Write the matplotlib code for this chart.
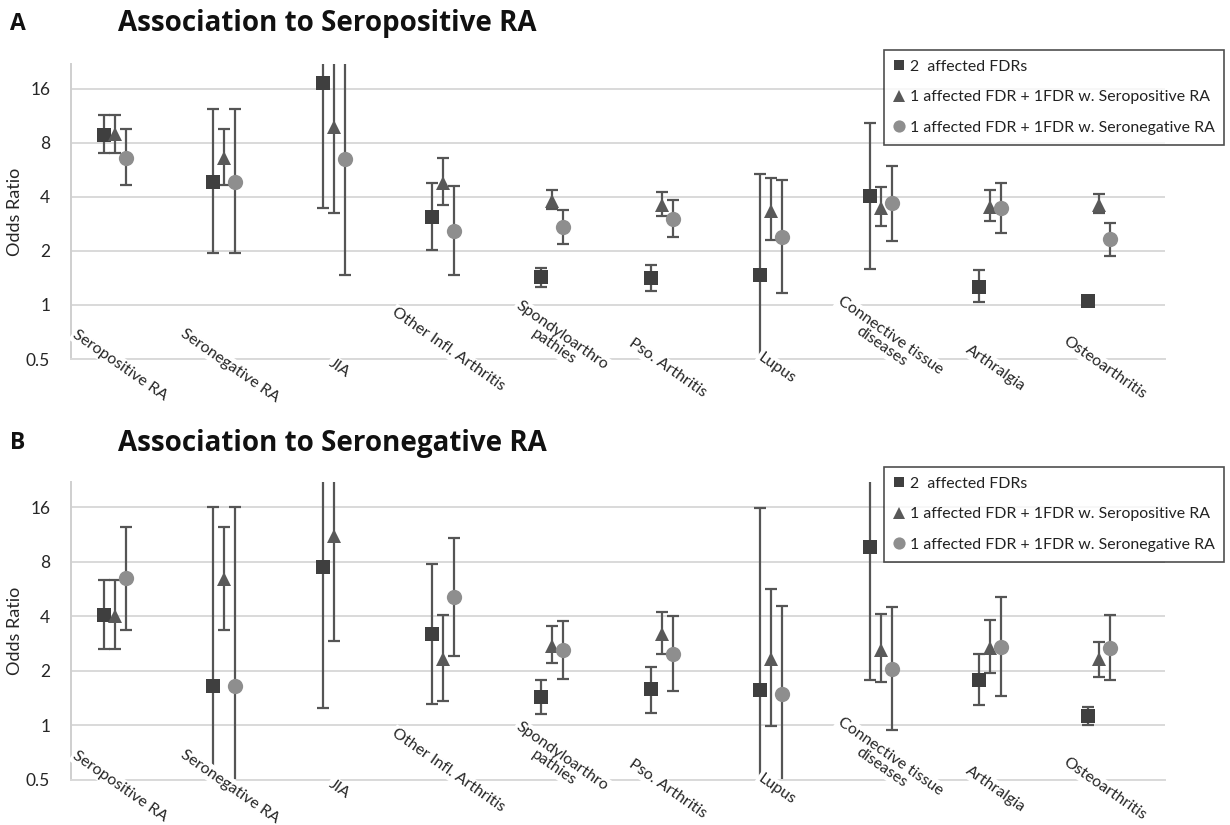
import numpy as np
import matplotlib
matplotlib.use('Agg')
import matplotlib.pyplot as plt
from matplotlib.ticker import FixedLocator, NullLocator, FixedFormatter

nan = np.nan

categories = ["Seropositive RA", "Seronegative RA", "JIA", "Other Infl. Arthritis",
              "Spondyloarthro\npathies", "Pso. Arthritis", "Lupus",
              "Connective tissue\ndiseases", "Arthralgia", "Osteoarthritis"]
series_labels = ["2  affected FDRs",
                 "1 affected FDR + 1FDR w. Seropositive RA",
                 "1 affected FDR + 1FDR w. Seronegative RA"]
yticks = [0.5, 1, 2, 4, 8, 16]
ytick_labels = ["0.5", "1", "2", "4", "8", "16"]

# Panel A: Association to Seropositive RA (odds ratio, lower CI, upper CI)
a_sq = [8.9, 4.85, 17.3, 3.09, 1.43, 1.41, 1.47, 4.04, 1.26, 1.05]
a_sq_lo = [7.0, 1.94, 3.45, 2.02, 1.26, 1.2, 0.3, 1.59, 1.04, 1.02]
a_sq_hi = [11.4, 12.3, 40, 4.75, 1.61, 1.67, 5.4, 10.3, 1.56, 1.08]
a_tr = [9.0, 6.6, 9.75, 4.79, 3.8, 3.6, 3.34, 3.45, 3.5, 3.6]
a_tr_lo = [7.0, 4.67, 3.26, 3.61, 3.43, 3.12, 2.3, 2.75, 2.93, 3.26]
a_tr_hi = [11.4, 9.5, 40, 6.6, 4.38, 4.24, 5.07, 4.52, 4.36, 4.16]
a_ci = [6.6, 4.85, 6.47, 2.58, 2.73, 3.02, 2.39, 3.68, 3.48, 2.32]
a_ci_lo = [4.67, 1.94, 1.47, 1.46, 2.2, 2.39, 1.16, 2.26, 2.53, 1.87]
a_ci_hi = [9.5, 12.3, 40, 4.59, 3.39, 3.84, 4.96, 5.96, 4.75, 2.86]

# Panel B: Association to Seronegative RA
b_sq = [4.08, 1.66, 7.47, 3.2, 1.44, 1.58, 1.56, 9.63, 1.79, 1.13]
b_sq_lo = [2.64, 0.3, 1.25, 1.32, 1.16, 1.17, 0.3, 1.79, 1.29, 1.0]
b_sq_hi = [6.36, 16.1, 40, 7.76, 1.79, 2.1, 15.8, 40, 2.49, 1.27]
b_tr = [4.0, 6.42, 11.1, 2.31, 2.73, 3.21, 2.33, 2.62, 2.68, 2.31]
b_tr_lo = [2.64, 3.36, 2.91, 1.37, 2.22, 2.47, 0.99, 1.74, 1.94, 1.86]
b_tr_hi = [6.36, 12.5, 40, 4.05, 3.54, 4.24, 5.68, 4.13, 3.82, 2.9]
b_ci = [6.5, 1.66, nan, 5.13, 2.61, 2.48, 1.49, 2.05, 2.71, 2.68]
b_ci_lo = [3.36, 0.3, nan, 2.42, 1.81, 1.55, 0.3, 0.94, 1.46, 1.78]
b_ci_hi = [12.5, 16.1, nan, 10.8, 3.75, 4.0, 4.58, 4.52, 5.08, 4.05]

plt.rcParams['font.family'] = ['Lato', 'DejaVu Sans']

fig = plt.figure(figsize=(12.3, 8.25), dpi=100)
W, H = 1230, 825

markers = ['s', '^', 'o']
mcolors = ['#3f3f3f', '#595959', '#8e8e8e']
msizes = [9.5, 10, 11]
offsets = [-0.2, -0.1, 0.0]
ecolor = '#555555'
gridc = '#d9d9d9'
txtc = '#262626'


def label_y(lab):
    # vertical centre of a rotated category label, in axes fraction
    lines = lab.split('\n')
    if len(lines) > 1:
        return 0.061
    return -0.03 + 0.0088 * max(0, len(lab) - 14)


def panel(ax_rect, series, title, letter, title_y, legend_top):
    ax = fig.add_axes(ax_rect)
    ax.set_yscale('log')
    ax.set_ylim(0.5, 22)
    ax.set_xlim(-0.5, len(categories) - 0.5)
    ax.yaxis.set_major_locator(FixedLocator(yticks))
    ax.yaxis.set_major_formatter(FixedFormatter(ytick_labels))
    ax.yaxis.set_minor_locator(NullLocator())
    ax.xaxis.set_major_locator(NullLocator())
    ax.xaxis.set_minor_locator(NullLocator())
    ax.tick_params(axis='y', length=0, pad=15, labelsize=12.5, labelcolor=txtc)
    ax.grid(axis='y', color=gridc, lw=1.4, zorder=0)
    ax.set_axisbelow(True)
    for s in ['top', 'right']:
        ax.spines[s].set_visible(False)
    ax.spines['left'].set_color('#cfcfcf')
    ax.spines['left'].set_linewidth(1.4)
    ax.spines['bottom'].set_color(gridc)
    ax.spines['bottom'].set_linewidth(1.4)
    ax.set_ylabel('Odds Ratio', fontsize=13, color=txtc)
    ax.yaxis.set_label_coords(-0.044, 0.5)

    x = np.arange(len(categories))
    for k, (vals, lo, hi) in enumerate(series):
        v = np.array(vals, float)
        l = np.array(lo, float)
        h = np.array(hi, float)
        ax.errorbar(x + offsets[k], v, yerr=[v - l, h - v], fmt='none',
                    ecolor=ecolor, elinewidth=1.6, capsize=4, capthick=1.6, zorder=2)
        ax.plot(x + offsets[k], v, ls='none', marker=markers[k], color=mcolors[k],
                markersize=msizes[k], markeredgewidth=0, label=series_labels[k], zorder=3)

    for i, lab in enumerate(categories):
        ax.text(i - 0.05, label_y(lab), lab, transform=ax.get_xaxis_transform(),
                rotation=-35, ha='center', va='center', fontsize=11.5, color=txtc,
                linespacing=1.0, multialignment='center', zorder=6, clip_on=False,
                bbox=dict(facecolor='white', edgecolor='none', pad=1.0))

    fig.text(18 / W, 1 - title_y / H, letter, fontsize=16.5, fontweight='bold',
             family=['Open Sans', 'DejaVu Sans'], ha='center', va='center', color='#111111')
    fig.text(118 / W, 1 - title_y / H, title, fontsize=20, fontweight='bold',
             family=['Open Sans', 'DejaVu Sans'], ha='left', va='center', color='#111111')

    leg = ax.legend(loc='upper right', bbox_to_anchor=(1224 / W, 1 - legend_top / H),
                    bbox_transform=fig.transFigure, borderaxespad=0, frameon=True,
                    fancybox=False, edgecolor='#222222', fontsize=11.4,
                    handlelength=0.7, handletextpad=0.3, labelspacing=1.05,
                    borderpad=0.6, markerscale=0.8)
    leg.get_frame().set_linewidth(1.2)
    for t in leg.get_texts():
        t.set_color('#222222')
    return ax


seriesA = [(a_sq, a_sq_lo, a_sq_hi), (a_tr, a_tr_lo, a_tr_hi), (a_ci, a_ci_lo, a_ci_hi)]
seriesB = [(b_sq, b_sq_lo, b_sq_hi), (b_tr, b_tr_lo, b_tr_hi), (b_ci, b_ci_lo, b_ci_hi)]

panel([71 / W, 1 - 359 / H, 1094 / W, 295 / H], seriesA,
      'Association to Seropositive RA', 'A', 24, 50)
panel([71 / W, 1 - 780 / H, 1094 / W, 298 / H], seriesB,
      'Association to Seronegative RA', 'B', 443, 467)

fig.savefig('out.png', dpi=100, facecolor='white')
